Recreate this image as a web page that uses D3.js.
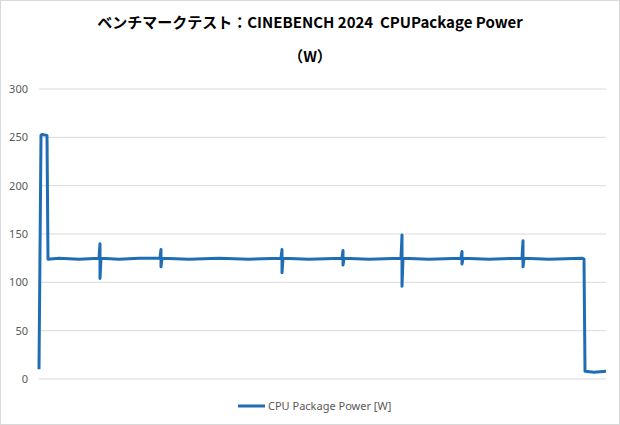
<!DOCTYPE html>
<html><head><meta charset="utf-8">
<script src="https://cdn.jsdelivr.net/npm/d3@7"></script>
<style>body{margin:0;background:#fff;font-family:"Noto Sans CJK JP","Noto Sans",sans-serif}</style>
</head><body><div id="chart"></div>
<script>
// sample index (seconds) and power (W)
const sampleX = [0, 2, 3, 8, 9, 20, 40, 60, 61, 61, 62, 80, 100, 121, 122, 122, 123, 150, 180, 210, 242, 243, 243, 244, 270, 303, 304, 304, 305, 330, 362, 363, 363, 364, 390, 422, 423, 423, 424, 450, 483, 484, 484, 485, 510, 543, 545, 546, 555, 567];
const power   = [10, 252, 253, 252, 124, 125, 124, 125, 140, 104, 125, 124, 125, 125, 134, 116, 125, 124, 125, 124, 125, 134, 110, 125, 124, 125, 133, 118, 125, 124, 125, 149, 96, 125, 124, 125, 132, 119, 125, 124, 125, 143, 116, 125, 124, 125, 124, 8, 7, 8];
const yTicks = [0, 50, 100, 150, 200, 250, 300];

const width = 620, height = 425;
const area = { left: 39, right: 606, top: 89, bottom: 379 };

const svg = d3.select("#chart").append("svg").attr("width", width).attr("height", height);
svg.append("rect").attr("x", 0.5).attr("y", 0.5).attr("width", width - 1).attr("height", height - 1)
  .attr("fill", "#fff").attr("stroke", "#d9d9d9");

const x = d3.scaleLinear().domain([0, 567]).range([area.left, area.right]);
const y = d3.scaleLinear().domain([0, 300]).range([area.bottom, area.top]);

// gridlines
svg.append("g").selectAll("line").data(yTicks).join("line")
  .attr("x1", area.left).attr("x2", area.right)
  .attr("y1", d => y(d)).attr("y2", d => y(d))
  .attr("stroke", "#d9d9d9");

svg.append("g").selectAll("text").data(yTicks).join("text")
  .attr("x", 28).attr("y", d => y(d) + 4)
  .attr("text-anchor", "end").attr("font-size", 11).attr("fill", "#595959")
  .attr("font-family", "Noto Sans, sans-serif")
  .text(d => d);

const pts = sampleX.map((d, i) => [d, power[i]]);
svg.append("path").datum(pts)
  .attr("fill", "none").attr("stroke", "#1f6eb5").attr("stroke-width", 3)
  .attr("stroke-linejoin", "round")
  .attr("d", d3.line().x(d => x(d[0])).y(d => y(d[1])));

// title
svg.append("text").attr("x", width / 2).attr("y", 28).attr("text-anchor", "middle")
  .attr("font-size", 15).attr("font-weight", "bold").attr("fill", "#000")
  .text("ベンチマークテスト：CINEBENCH 2024\u00a0\u00a0CPUPackage Power");
svg.append("text").attr("x", width / 2).attr("y", 62).attr("text-anchor", "middle")
  .attr("font-size", 15).attr("font-weight", "bold").attr("fill", "#000")
  .text("（W）");

// legend
svg.append("line").attr("x1", 238).attr("x2", 265).attr("y1", 406).attr("y2", 406)
  .attr("stroke", "#1f6eb5").attr("stroke-width", 3);
svg.append("text").attr("x", 268).attr("y", 410).attr("font-size", 11).attr("fill", "#595959")
  .attr("font-family", "Noto Sans, sans-serif")
  .text("CPU Package Power [W]");
</script></body></html>
